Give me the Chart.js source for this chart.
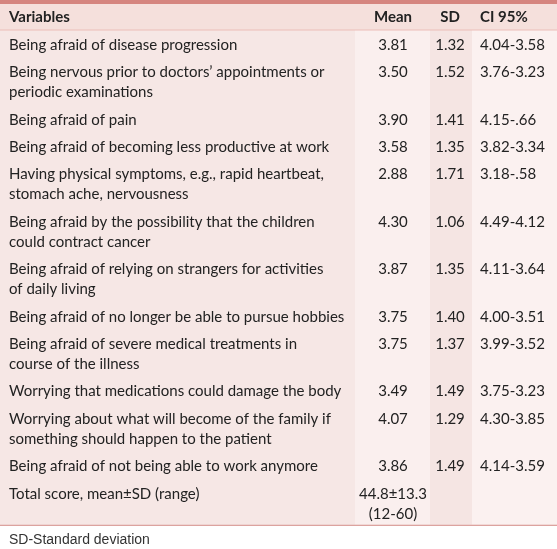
<!DOCTYPE html>
<html>
<head>
<meta charset="utf-8">
<script src="https://cdn.jsdelivr.net/npm/chart.js@4.4.0/dist/chart.umd.min.js"></script>
<style>
  html, body { margin: 0; padding: 0; background: #fff; }
  #wrap { width: 557px; height: 549px; position: relative; }
</style>
</head>
<body>
<div id="wrap"><canvas id="tabela"></canvas></div>
<script>
// dados da tabela
var headers = ['Variables', 'Mean', 'SD', 'CI 95%'];
var variables = [
  ['Being afraid of disease progression'],
  ['Being nervous prior to doctors\u2019 appointments or', 'periodic examinations'],
  ['Being afraid of pain'],
  ['Being afraid of becoming less productive at work'],
  ['Having physical symptoms, e.g., rapid heartbeat,', 'stomach ache, nervousness'],
  ['Being afraid by the possibility that the children', 'could contract cancer'],
  ['Being afraid of relying on strangers for activities', 'of daily living'],
  ['Being afraid of no longer be able to pursue hobbies'],
  ['Being afraid of severe medical treatments in', 'course of the illness'],
  ['Worrying that medications could damage the body'],
  ['Worrying about what will become of the family if', 'something should happen to the patient'],
  ['Being afraid of not being able to work anymore'],
  ['Total score, mean\u00b1SD (range)']
];
var means = [['3.81'], ['3.50'], ['3.90'], ['3.58'], ['2.88'], ['4.30'], ['3.87'], ['3.75'], ['3.75'], ['3.49'], ['4.07'], ['3.86'], ['44.8\u00b113.3', '(12-60)']];
var sds = ['1.32', '1.52', '1.41', '1.35', '1.71', '1.06', '1.35', '1.40', '1.37', '1.49', '1.29', '1.49', ''];
var cis = ['4.04-3.58', '3.76-3.23', '4.15-.66', '3.82-3.34', '3.18-.58', '4.49-4.12', '4.11-3.64', '4.00-3.51', '3.99-3.52', '3.75-3.23', '4.30-3.85', '4.14-3.59', ''];
var footnote = 'SD-Standard deviation';

// geometria (unidades das escalas)
var colEdges = [0, 355, 430, 472, 557];
var colBg = ['#f6e7e5', '#faefee', '#f5e5e3', '#fbf1f0'];
var headTop = 4, headBottom = 30;
var rowH = 27.4, lineH = 20, firstLine = 15;

var fontTab = '15px Lato, "Open Sans", sans-serif';
var fontHead = 'bold 15px Lato, "Open Sans", sans-serif';
var corTexto = '#222';

var tablePlugin = {
  id: 'tabela',
  beforeDatasetsDraw: function (chart) {
    var ctx = chart.ctx;
    var xs = chart.scales.x, ys = chart.scales.y;
    var px = function (v) { return xs.getPixelForValue(v); };
    var py = function (v) { return ys.getPixelForValue(v); };

    // posicoes das linhas
    var tops = [], y = headBottom;
    for (var i = 0; i < variables.length; i++) {
      tops.push(y);
      var n = Math.max(variables[i].length, means[i].length);
      y += rowH + lineH * (n - 1);
    }
    var bottom = y - 1.5;

    ctx.save();
    // fundo das colunas
    for (var c = 0; c < 4; c++) {
      ctx.fillStyle = colBg[c];
      ctx.fillRect(px(colEdges[c]), py(headBottom), px(colEdges[c + 1]) - px(colEdges[c]), py(bottom) - py(headBottom));
    }
    // cabecalho
    ctx.fillStyle = '#f5e0dc';
    ctx.fillRect(px(0), py(headTop), px(557) - px(0), py(headBottom) - py(headTop));
    ctx.fillStyle = '#d5857f';
    ctx.fillRect(px(0), py(0), px(557) - px(0), py(headTop) - py(0));
    ctx.fillStyle = '#ebbdb8';
    ctx.fillRect(px(0), py(headBottom - 0.5), px(557) - px(0), 1);
    ctx.fillStyle = '#d99a95';
    ctx.fillRect(px(0), py(bottom), px(557) - px(0), 1.2);

    ctx.textBaseline = 'middle';
    ctx.fillStyle = corTexto;
    ctx.font = fontHead;
    var hy = py(17);
    ctx.textAlign = 'left'; ctx.fillText(headers[0], px(9), hy);
    ctx.textAlign = 'center'; ctx.fillText(headers[1], px(393), hy);
    ctx.fillText(headers[2], px(450), hy);
    ctx.textAlign = 'left'; ctx.fillText(headers[3], px(480), hy);

    ctx.font = fontTab;
    for (var r = 0; r < variables.length; r++) {
      var t = tops[r] + firstLine;
      ctx.textAlign = 'left';
      variables[r].forEach(function (l, k) { ctx.fillText(l, px(9), py(t + k * lineH)); });
      ctx.textAlign = 'center';
      means[r].forEach(function (l, k) { ctx.fillText(l, px(393), py(t + k * lineH)); });
      ctx.fillText(sds[r], px(450), py(t));
      ctx.textAlign = 'left';
      ctx.fillText(cis[r], px(480), py(t));
    }

    // nota de rodape
    ctx.font = '14px "Liberation Sans", Arial, sans-serif';
    ctx.fillStyle = '#333';
    ctx.fillText(footnote, px(9), py(540));
    ctx.restore();
  }
};

var ctx = document.getElementById('tabela').getContext('2d');
var tabela = new Chart(ctx, {
  type: 'scatter',
  data: { datasets: [{ data: [] }] },
  options: {
    responsive: true,
    maintainAspectRatio: false,
    animation: false,
    layout: { padding: 0 },
    plugins: { legend: { display: false }, tooltip: { enabled: false } },
    scales: {
      x: { type: 'linear', min: 0, max: 557, display: false },
      y: { type: 'linear', min: 0, max: 549, reverse: true, display: false }
    }
  },
  plugins: [tablePlugin]
});
</script>
</body>
</html>
